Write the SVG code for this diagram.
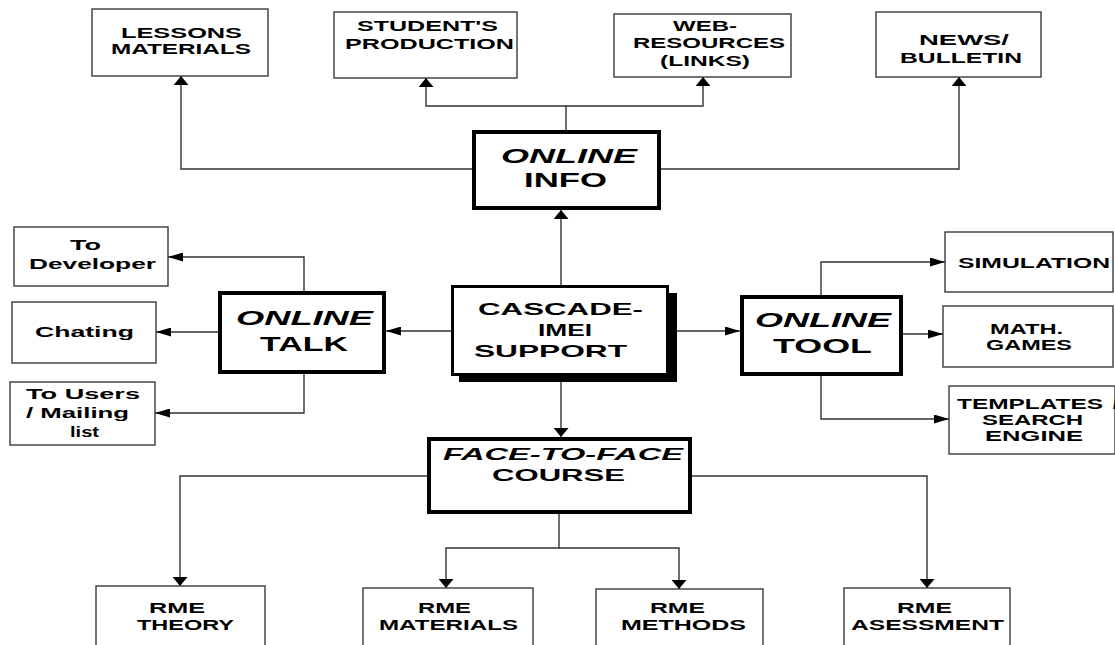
<svg xmlns="http://www.w3.org/2000/svg" width="1115" height="645" viewBox="0 0 1115 645">
  <style>
    .box { fill: #fff; stroke: #3a3a3a; stroke-width: 1.4; }
    .hub { fill: #fff; stroke: #000; stroke-width: 4; }
    .shadow { fill: #000; }
    .t { font-family: "Liberation Sans", Arial, sans-serif; font-weight: bold; font-size: 14.5px; fill: #000; }
    .big { font-size: 19.5px; }
    .mid { font-size: 17px; }
    .ff { font-size: 16.5px; }
    .it { font-style: italic; }
    .link { fill: none; stroke: #333; stroke-width: 1.4; }
    .lh { marker-end: url(#arrow-h); }
    .lv { marker-end: url(#arrow-v); }
  </style>
  <defs>
    <!-- arrowhead for horizontal runs: long and narrow -->
    <marker id="arrow-h" markerUnits="userSpaceOnUse" viewBox="0 0 15 9" refX="15" refY="4.5" markerWidth="15" markerHeight="9" orient="auto">
      <path d="M0,0 L15,4.5 L0,9 z" fill="#000"/>
    </marker>
    <!-- arrowhead for vertical runs: short and wide -->
    <marker id="arrow-v" markerUnits="userSpaceOnUse" viewBox="0 0 9 15" refX="9" refY="7.5" markerWidth="9" markerHeight="15" orient="auto">
      <path d="M0,0 L9,7.5 L0,15 z" fill="#000"/>
    </marker>
  </defs>

  <rect width="1115" height="645" fill="#fff"/>

  <!-- connectors -->
  <g id="connectors">
    <path class="link lv" d="M472,169 H181 V76"/>
    <path class="link lv" d="M566,130 V106 H426 V78"/>
    <path class="link lv" d="M566,106 H703 V77"/>
    <path class="link lv" d="M661,169 H959 V77"/>
    <path class="link lv" d="M561,285 V210"/>
    <path class="link lh" d="M451,331 H386"/>
    <path class="link lh" d="M677,331 H740"/>
    <path class="link lv" d="M561,382 V437"/>
    <path class="link lh" d="M304,291 V257 H168"/>
    <path class="link lh" d="M218,332 H156"/>
    <path class="link lh" d="M304,374 V413 H155"/>
    <path class="link lh" d="M821,295 V262 H945"/>
    <path class="link lh" d="M903,334 H943"/>
    <path class="link lh" d="M821,376 V419 H949"/>
    <path class="link lv" d="M427,476 H180 V586"/>
    <path class="link lv" d="M559,514 V548 H446 V588"/>
    <path class="link lv" d="M559,548 H679 V589"/>
    <path class="link lv" d="M692,476 H927 V588"/>
  </g>

  <!-- online info branch -->
  <g id="lessons">
    <rect class="box" x="92" y="9" width="176" height="67"/>
    <text class="t" x="121" y="38" textLength="121" lengthAdjust="spacingAndGlyphs">LESSONS</text>
    <text class="t" x="111" y="54" textLength="140" lengthAdjust="spacingAndGlyphs">MATERIALS</text>
  </g>
  <g id="student">
    <rect class="box" x="334" y="12" width="183" height="66"/>
    <text class="t" x="357" y="31" textLength="141" lengthAdjust="spacingAndGlyphs">STUDENT'S</text>
    <text class="t" x="345" y="49" textLength="169" lengthAdjust="spacingAndGlyphs">PRODUCTION</text>
  </g>
  <g id="web">
    <rect class="box" x="614" y="14" width="177" height="63"/>
    <text class="t" x="673" y="31" textLength="64" lengthAdjust="spacingAndGlyphs">WEB-</text>
    <text class="t" x="633" y="48" textLength="152" lengthAdjust="spacingAndGlyphs">RESOURCES</text>
    <text class="t" x="660" y="66" textLength="90" lengthAdjust="spacingAndGlyphs">(LINKS)</text>
  </g>
  <g id="news">
    <rect class="box" x="876" y="12" width="165" height="65"/>
    <text class="t" x="919" y="45" textLength="90" lengthAdjust="spacingAndGlyphs">NEWS/</text>
    <text class="t" x="900" y="63" textLength="122" lengthAdjust="spacingAndGlyphs">BULLETIN</text>
  </g>
  <g id="online-info">
    <rect class="hub" x="474" y="132" width="185" height="76"/>
    <text class="t big it" x="501" y="163" textLength="136" lengthAdjust="spacingAndGlyphs">ONLINE</text>
    <text class="t big" x="524" y="187" textLength="83" lengthAdjust="spacingAndGlyphs">INFO</text>
  </g>

  <!-- central node -->
  <g id="cascade">
    <rect class="shadow" x="459" y="293" width="218" height="89"/>
    <rect class="hub" x="452.5" y="286.5" width="215" height="88" style="stroke-width:3"/>
    <text class="t mid" x="478" y="315" textLength="165" lengthAdjust="spacingAndGlyphs">CASCADE-</text>
    <text class="t mid" x="538" y="336" textLength="54" lengthAdjust="spacingAndGlyphs">IMEI</text>
    <text class="t mid" x="474" y="357" textLength="153" lengthAdjust="spacingAndGlyphs">SUPPORT</text>
  </g>

  <!-- online talk branch -->
  <g id="online-talk">
    <rect class="hub" x="220" y="293" width="164" height="79"/>
    <text class="t big it" x="236" y="325" textLength="137" lengthAdjust="spacingAndGlyphs">ONLINE</text>
    <text class="t big" x="260" y="351" textLength="88" lengthAdjust="spacingAndGlyphs">TALK</text>
  </g>
  <g id="developer">
    <rect class="box" x="14" y="227" width="154" height="59"/>
    <text class="t" x="70" y="250" textLength="31" lengthAdjust="spacingAndGlyphs">To</text>
    <text class="t" x="29" y="269" textLength="127" lengthAdjust="spacingAndGlyphs">Developer</text>
  </g>
  <g id="chating">
    <rect class="box" x="12" y="302" width="144" height="61"/>
    <text class="t" x="35" y="337" textLength="99" lengthAdjust="spacingAndGlyphs">Chating</text>
  </g>
  <g id="users">
    <rect class="box" x="10" y="382" width="145" height="63"/>
    <text class="t" x="26" y="399" textLength="114" lengthAdjust="spacingAndGlyphs">To Users</text>
    <text class="t" x="26" y="418" textLength="103" lengthAdjust="spacingAndGlyphs">/ Mailing</text>
    <text class="t" x="70" y="437" textLength="29" lengthAdjust="spacingAndGlyphs">list</text>
  </g>

  <!-- online tool branch -->
  <g id="online-tool">
    <rect class="hub" x="742" y="297" width="159" height="77"/>
    <text class="t big it" x="755" y="327" textLength="136" lengthAdjust="spacingAndGlyphs">ONLINE</text>
    <text class="t big" x="773" y="353" textLength="99" lengthAdjust="spacingAndGlyphs">TOOL</text>
  </g>
  <g id="simulation">
    <rect class="box" x="945" y="232" width="168" height="60"/>
    <text class="t" x="958" y="268" textLength="152" lengthAdjust="spacingAndGlyphs">SIMULATION</text>
  </g>
  <g id="math-games">
    <rect class="box" x="943" y="306" width="170" height="61"/>
    <text class="t" x="990" y="334" textLength="73" lengthAdjust="spacingAndGlyphs">MATH.</text>
    <text class="t" x="986" y="350" textLength="86" lengthAdjust="spacingAndGlyphs">GAMES</text>
  </g>
  <g id="templates">
    <rect class="box" x="949" y="386" width="166" height="68"/>
    <text class="t" x="957" y="409" textLength="146" lengthAdjust="spacingAndGlyphs">TEMPLATES</text>
    <!-- the slash runs off the right edge of the canvas -->
    <text class="t" x="1113" y="409">/</text>
    <text class="t" x="982" y="425" textLength="101" lengthAdjust="spacingAndGlyphs">SEARCH</text>
    <text class="t" x="985" y="441" textLength="98" lengthAdjust="spacingAndGlyphs">ENGINE</text>
  </g>

  <!-- face-to-face branch -->
  <g id="face-to-face">
    <rect class="hub" x="429" y="439" width="261" height="73"/>
    <text class="t ff it" x="443" y="460" textLength="240" lengthAdjust="spacingAndGlyphs">FACE-TO-FACE</text>
    <text class="t ff" x="492" y="481" textLength="133" lengthAdjust="spacingAndGlyphs">COURSE</text>
  </g>
  <g id="rme-theory">
    <rect class="box" x="96" y="586" width="169" height="80"/>
    <text class="t" x="149" y="613" textLength="56" lengthAdjust="spacingAndGlyphs">RME</text>
    <text class="t" x="137" y="630" textLength="97" lengthAdjust="spacingAndGlyphs">THEORY</text>
  </g>
  <g id="rme-materials">
    <rect class="box" x="363" y="588" width="170" height="80"/>
    <text class="t" x="418" y="613" textLength="53" lengthAdjust="spacingAndGlyphs">RME</text>
    <text class="t" x="379" y="630" textLength="139" lengthAdjust="spacingAndGlyphs">MATERIALS</text>
  </g>
  <g id="rme-methods">
    <rect class="box" x="596" y="589" width="167" height="80"/>
    <text class="t" x="650" y="613" textLength="55" lengthAdjust="spacingAndGlyphs">RME</text>
    <text class="t" x="621" y="630" textLength="125" lengthAdjust="spacingAndGlyphs">METHODS</text>
  </g>
  <g id="rme-assessment">
    <rect class="box" x="844" y="588" width="166" height="80"/>
    <text class="t" x="897" y="613" textLength="55" lengthAdjust="spacingAndGlyphs">RME</text>
    <text class="t" x="851" y="630" textLength="153" lengthAdjust="spacingAndGlyphs">ASESSMENT</text>
  </g>
</svg>
